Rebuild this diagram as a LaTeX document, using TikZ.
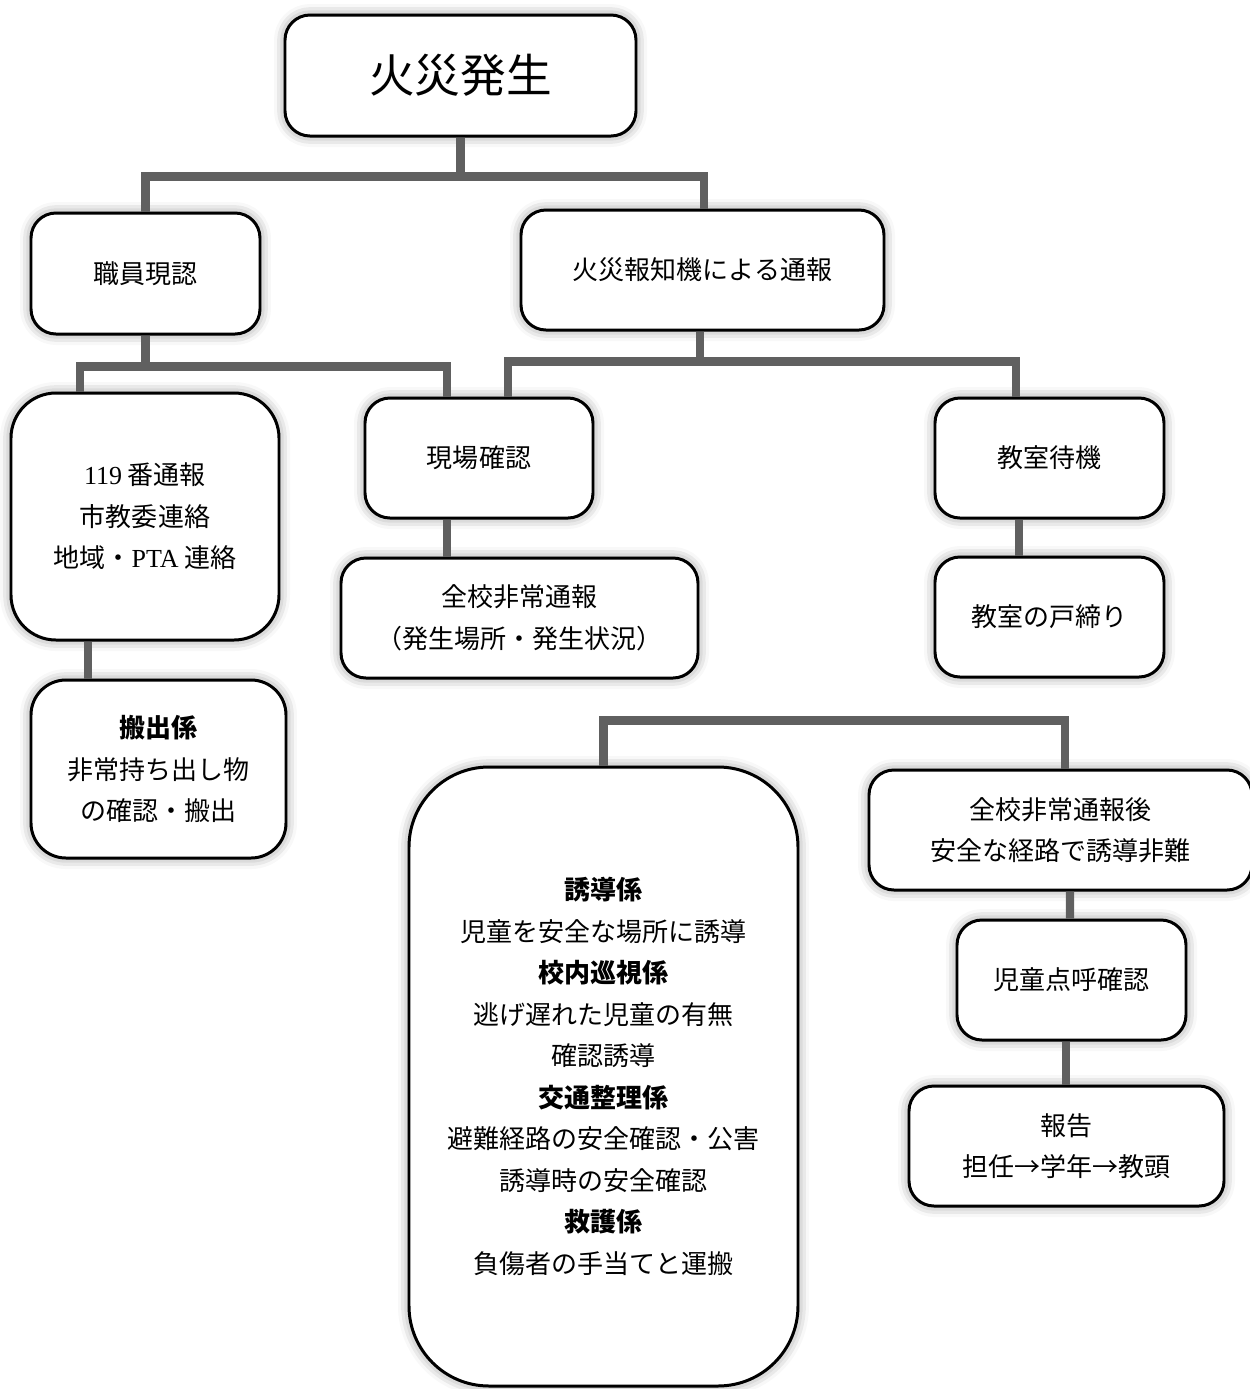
\documentclass[tikz,border=0pt]{standalone}
\usepackage{fontspec}
\newfontfamily\cjk{Noto Sans CJK JP}
\newfontfamily\lat{Liberation Serif}
\usetikzlibrary{shadows.blur,calc}
\definecolor{conngray}{HTML}{606060}
\tikzset{
  box/.style={draw=black, line width=0.85pt, fill=white, rounded corners=2.5mm,
    align=center, inner sep=0pt, font=\cjk\fontsize{7.4}{11.8}\selectfont,
    blur shadow={shadow xshift=0pt, shadow yshift=0pt, shadow blur radius=1.1mm, shadow opacity=45}},
  conn/.style={draw=conngray, line width=2.3pt, line join=miter}
}
\begin{document}
\begin{tikzpicture}[x=0.1mm, y=-0.1mm]
\useasboundingbox (0,0) rectangle (1250,1389);
% boxes
\node[box, minimum width=35.1mm, minimum height=12.1mm, font=\cjk\fontsize{13}{15}\selectfont] (fire) at (460.5,75.5) {火災発生};
\node[box, minimum width=22.9mm, minimum height=12.1mm] (staff) at (145.5,273.5) {職員現認};
\node[box, minimum width=36.3mm, minimum height=12.0mm] (alarm) at (702.5,270) {火災報知機による通報};
\node[box, minimum width=26.8mm, minimum height=24.7mm, rounded corners=4.5mm] (call) at (145,516.5)
  {{\lat 119} 番通報\\市教委連絡\\地域・{\lat PTA} 連絡};
\node[box, minimum width=22.8mm, minimum height=12.0mm] (check) at (479,458) {現場確認};
\node[box, minimum width=22.9mm, minimum height=12.0mm] (wait) at (1049.5,458) {教室待機};
\node[box, minimum width=35.7mm, minimum height=12.0mm] (notify) at (519.5,618) {全校非常通報\\（発生場所・発生状況）};
\node[box, minimum width=22.9mm, minimum height=12.0mm] (lock) at (1049.5,617) {教室の戸締り};
\node[box, minimum width=25.5mm, minimum height=17.8mm, rounded corners=3.5mm] (carry) at (158.5,769)
  {\textbf{搬出係}\\非常持ち出し物\\の確認・搬出};
\node[box, minimum width=38.9mm, minimum height=61.9mm, rounded corners=8mm] (roles) at (603.5,1076.5)
  {\textbf{誘導係}\\児童を安全な場所に誘導\\\textbf{校内巡視係}\\逃げ遅れた児童の有無\\確認誘導\\\textbf{交通整理係}\\避難経路の安全確認・公害\\誘導時の安全確認\\\textbf{救護係}\\負傷者の手当てと運搬};
\node[box, minimum width=38.3mm, minimum height=12.0mm] (evac) at (1060.5,830) {全校非常通報後\\安全な経路で誘導非難};
\node[box, minimum width=22.9mm, minimum height=12.0mm] (roll) at (1071.5,980) {児童点呼確認};
\node[box, minimum width=31.5mm, minimum height=12.0mm] (report) at (1066.5,1146) {報告\\担任→学年→教頭};
% connectors
\draw[conn] (fire.south) -- ++(0,39) coordinate (j1);
\draw[conn] (staff.north) |- (j1) -| ($(alarm.north)+(1.5,0)$);
\draw[conn] (staff.south) -- ++(0,31) coordinate (j2);
\draw[conn] ($(call.north)+(-65,0)$) |- (j2) -| ($(check.north)+(-32,0)$);
\draw[conn] ($(alarm.south)+(-2.5,0)$) -- ++(0,30) coordinate (j3);
\draw[conn] ($(check.north)+(29,0)$) |- (j3) -| ($(wait.north)+(-33.5,0)$);
\draw[conn] ($(check.south)+(-32,0)$) -- ($(notify.north)+(-72.5,0)$);
\draw[conn] ($(wait.south)+(-30.5,0)$) -- ($(lock.north)+(-30.5,0)$);
\draw[conn] ($(call.south)+(-57,0)$) -- ($(carry.north)+(-70.5,0)$);
\draw[conn] (roles.north) |- ($(evac.north)+(4.5,-48)$) -- ($(evac.north)+(4.5,0)$);
\draw[conn] ($(evac.south)+(9.5,0)$) -- ($(roll.north)+(-1.5,0)$);
\draw[conn] ($(roll.south)+(-5.5,0)$) -- ($(report.north)+(-0.5,0)$);
\end{tikzpicture}
\end{document}
